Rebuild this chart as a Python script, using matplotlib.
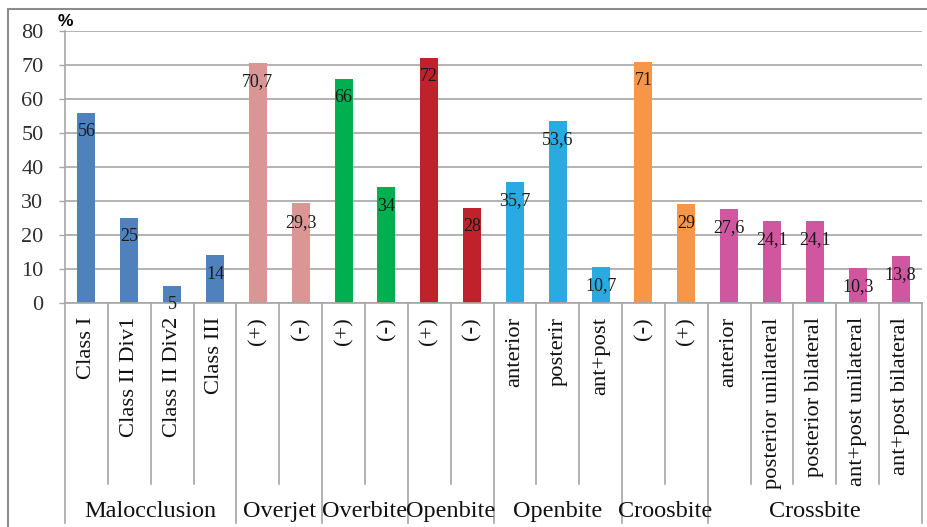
import matplotlib.pyplot as plt
from matplotlib.transforms import blended_transform_factory
from matplotlib.patches import Rectangle

# prevalence (%) of each finding, grouped by trait
groups = ["Malocclusion", "Overjet", "Overbite", "Openbite", "Openbite", "Croosbite", "Crossbite"]
group_items = [
    ["Class I", "Class II Div1", "Class II Div2", "Class III"],
    ["(+)", "(-)"],
    ["(+)", "(-)"],
    ["(+)", "(-)"],
    ["anterior", "posterir", "ant+post"],
    ["(-)", "(+)"],
    ["anterior", "posterior unilateral", "posterior bilateral",
     "ant+post unilateral", "ant+post bilateral"],
]
group_values = [
    [56, 25, 5, 14],
    [70.7, 29.3],
    [66, 34],
    [72, 28],
    [35.7, 53.6, 10.7],
    [71, 29],
    [27.6, 24.1, 24.1, 10.3, 13.8],
]
group_colors = ["#4F81BD", "#D99694", "#00B050", "#C0222B", "#29ABE2", "#F79646", "#CF569F"]

serif = "Liberation Serif"
grid_c = "#A6A6A6"

fig = plt.figure(figsize=(9.27, 5.27), dpi=100)
W, H = 927, 527
ax = fig.add_axes([65 / W, 224 / H, 857 / W, 272 / H])

labels, values, colors, starts = [], [], [], []
for items, vals, c in zip(group_items, group_values, group_colors):
    starts.append(len(labels))
    labels += items
    values += vals
    colors += [c] * len(items)
n = len(values)
xs = list(range(n))

ax.bar(xs, values, width=0.42, color=colors, zorder=2)
for x, v in zip(xs, values):
    txt = f"{v:g}".replace(".", ",")
    ax.annotate(txt, (x, v), xytext=(0, -13.5), textcoords="offset points",
                ha="center", va="center", fontsize=13, family=serif,
                color="#1a1a1a", zorder=3)

ax.set_xlim(-0.5, n - 0.5)
ax.set_ylim(0, 80)
ax.set_yticks(range(0, 81, 10))
ax.set_xticks([])
ax.yaxis.grid(True, color=grid_c, lw=1.2, zorder=0)
ax.tick_params(axis="y", length=4.5, width=1, color=grid_c, pad=11,
               labelsize=16, labelcolor="#303030")
for lab in ax.get_yticklabels():
    lab.set_family(serif)
for s in ["top", "right"]:
    ax.spines[s].set_visible(False)
for s in ["left", "bottom"]:
    ax.spines[s].set_color(grid_c)
    ax.spines[s].set_linewidth(1.2)

# category table under the axis
tr = blended_transform_factory(ax.transData, ax.transAxes)
bounds = starts + [n]
for i in range(n + 1):
    bottom = -0.81 if i in bounds else -0.665
    ax.plot([i - 0.5, i - 0.5], [0, bottom], color=grid_c, lw=1.2,
            transform=tr, clip_on=False)
for x, lab in zip(xs, labels):
    ax.text(x, -0.052, lab, transform=tr, rotation=90, ha="center", va="top",
            fontsize=16.2, family=serif, color="#111111")
for g, a, b in zip(groups, bounds[:-1], bounds[1:]):
    ax.text((a + b - 1) / 2, -0.765, g, transform=tr, ha="center", va="center",
            fontsize=17.5, family=serif, color="#111111")

fig.text(65 / W, 1 - 22 / H, "%", ha="center", va="center",
         fontsize=12.5, fontweight="bold", family="Liberation Sans")

# chart frame
fig.add_artist(Rectangle((8 / W, -0.1), 1.2, 1 - 9 / H + 0.1,
                         transform=fig.transFigure, fill=False,
                         edgecolor="#8C8C8C", lw=1.5))

fig.savefig("out.png", dpi=100)
